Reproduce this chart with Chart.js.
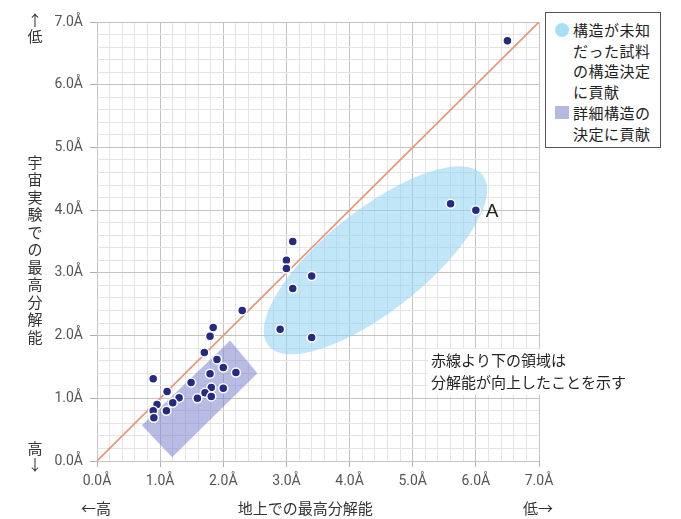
<!DOCTYPE html>
<html>
<head>
<meta charset="utf-8">
<script src="https://cdn.jsdelivr.net/npm/chart.js@4"></script>
<style>
  html, body { margin: 0; padding: 0; background: #fff; }
  #wrap { position: relative; width: 681px; height: 519px; }
  #legend {
    position: absolute; left: 545px; top: 12px; width: 116px; height: 136px;
    border: 1px solid #555; background: #fff; box-sizing: border-box;
    font-family: "Noto Sans CJK JP", sans-serif; font-size: 15px; color: #222;
    letter-spacing: 0.5px;
  }
  #legend .row { position: absolute; left: 27px; line-height: 20px; white-space: nowrap; }
  #legend .dot { position: absolute; left: 9px; top: 10px; width: 14px; height: 14px; border-radius: 50%; background: #a9def8; }
  #legend .sq { position: absolute; left: 9px; top: 93px; width: 14px; height: 13px; background: #b5b9e2; }
</style>
</head>
<body>
<div id="wrap">
  <canvas id="chart" width="681" height="519"></canvas>
  <div id="legend">
    <div class="dot"></div>
    <div class="row" style="top:7px">構造が未知</div>
    <div class="row" style="top:28px">だった試料</div>
    <div class="row" style="top:48px">の構造決定</div>
    <div class="row" style="top:69px">に貢献</div>
    <div class="sq"></div>
    <div class="row" style="top:90px">詳細構造の</div>
    <div class="row" style="top:111px">決定に貢献</div>
  </div>
</div>
<script>
// measured resolutions (Å): ground (x) vs. space experiment (y)
const groundRes = [6.5, 5.6, 6.0, 3.1, 3.0, 3.0, 3.4, 3.1, 2.9, 3.4, 2.3,
  1.84, 1.79, 1.70, 0.89, 1.90, 2.00, 1.79, 2.20, 1.49, 1.11, 2.00, 1.81,
  1.30, 1.20, 1.71, 1.59, 1.81, 0.95, 1.10, 0.89, 0.90];
const spaceRes = [6.7, 4.1, 4.0, 3.5, 3.2, 3.07, 2.95, 2.75, 2.1, 1.97, 2.4,
  2.13, 1.99, 1.73, 1.31, 1.62, 1.49, 1.39, 1.41, 1.25, 1.11, 1.16, 1.17,
  1.01, 0.93, 1.09, 1.00, 1.03, 0.90, 0.80, 0.80, 0.69];

// reference line y = x
const refLineX = [0, 7];
const refLineY = [0, 7];

// highlighted regions (data units)
const ellipseCenter = [4.41, 3.2];
const ellipseRadii = [2.17, 0.8];
const ellipseAngle = 38.5;
const rectX = [2.11, 2.54, 1.19, 0.71];
const rectY = [1.92, 1.40, 0.06, 0.57];

const axisMin = 0, axisMax = 7, gridStep = 0.2;

const tickFont = { family: '"Liberation Sans Narrow", "Roboto", sans-serif', size: 14 };
const jpFont = '"Noto Sans CJK JP", sans-serif';

function isMajor(v) { return Math.abs(v - Math.round(v)) < 1e-6; }

const regionsPlugin = {
  id: 'regions',
  beforeDatasetsDraw(chart) {
    const ctx = chart.ctx, xs = chart.scales.x, ys = chart.scales.y;
    ctx.save();
    // ellipse: structure of unknown samples
    const cx = xs.getPixelForValue(ellipseCenter[0]);
    const cy = ys.getPixelForValue(ellipseCenter[1]);
    const rx = xs.getPixelForValue(ellipseCenter[0] + ellipseRadii[0]) - cx;
    const ry = xs.getPixelForValue(ellipseCenter[0] + ellipseRadii[1]) - cx;
    ctx.fillStyle = 'rgba(140, 210, 242, 0.55)';
    ctx.beginPath();
    ctx.ellipse(cx, cy, rx, ry, -ellipseAngle * Math.PI / 180, 0, Math.PI * 2);
    ctx.fill();
    // rotated rectangle: detailed structure
    ctx.fillStyle = 'rgba(125, 133, 205, 0.55)';
    ctx.beginPath();
    rectX.forEach((v, i) => {
      const px = xs.getPixelForValue(v), py = ys.getPixelForValue(rectY[i]);
      if (i === 0) ctx.moveTo(px, py); else ctx.lineTo(px, py);
    });
    ctx.closePath();
    ctx.fill();
    ctx.restore();
  },
  afterDraw(chart) {
    const ctx = chart.ctx, xs = chart.scales.x, ys = chart.scales.y;
    const area = chart.chartArea;
    ctx.save();
    ctx.fillStyle = '#222';
    ctx.textBaseline = 'middle';

    // point label "A"
    ctx.font = '19px "Liberation Sans", sans-serif';
    ctx.textAlign = 'left';
    ctx.fillText('A', xs.getPixelForValue(6.0) + 10, ys.getPixelForValue(4.0) + 2);

    // note text with white background
    const nx = xs.getPixelForValue(5.29), ny = ys.getPixelForValue(1.6);
    ctx.fillStyle = '#fff';
    ctx.fillRect(nx - 3, ny - 12, 200, 46);
    ctx.fillStyle = '#222';
    ctx.font = '15px ' + jpFont;
    ctx.fillText('赤線より下の領域は', nx, ny);
    ctx.fillText('分解能が向上したことを示す', nx, ny + 22);

    // y axis title, vertical
    ctx.textAlign = 'center';
    ctx.fillStyle = '#333';
    const title = '宇宙実験での最高分解能';
    const tx = area.left - 62;
    const ty0 = 162;
    [...title].forEach((ch, i) => ctx.fillText(ch, tx, ty0 + i * 17.5));
    ctx.fillText('↑', tx, area.top - 2);
    ctx.fillText('低', tx, area.top + 14);
    ctx.fillText('高', tx, area.bottom - 13);
    ctx.fillText('↓', tx, area.bottom + 3);

    // x axis titles
    const by = area.bottom + 47;
    ctx.fillText('地上での最高分解能', (xs.getPixelForValue(3.3)), by);
    ctx.textAlign = 'left';
    ctx.fillText('←高', area.left - 16, by);
    ctx.fillText('低→', area.right - 16, by);
    ctx.restore();
  }
};

new Chart(document.getElementById('chart').getContext('2d'), {
  type: 'scatter',
  data: {
    datasets: [
      {
        data: refLineX.map((v, i) => ({ x: v, y: refLineY[i] })),
        showLine: true,
        borderColor: '#ea9478',
        borderWidth: 1.6,
        pointRadius: 0,
        order: 2
      },
      {
        data: groundRes.map((v, i) => ({ x: v, y: spaceRes[i] })),
        backgroundColor: '#262a80',
        borderColor: '#ffffff',
        borderWidth: 1.5,
        pointRadius: 4.5,
        order: 1
      }
    ]
  },
  options: {
    responsive: false,
    animation: false,
    layout: { padding: { top: 22, right: 142, left: 0, bottom: 0 } },
    plugins: {
      legend: { display: false },
      tooltip: { enabled: false }
    },
    scales: {
      x: {
        type: 'linear',
        min: axisMin, max: axisMax,
        afterFit: (s) => { s.height = 58; },
        border: { display: false },
        grid: {
          color: (c) => isMajor(c.tick.value) ? '#c4c4c4' : '#e4e4e4',
          tickColor: (c) => isMajor(c.tick.value) ? '#b0b0b0' : 'rgba(0,0,0,0)',
          tickLength: 6
        },
        ticks: {
          stepSize: gridStep,
          autoSkip: false,
          maxRotation: 0,
          padding: 6,
          color: '#555',
          font: tickFont,
          callback: (v) => isMajor(v) ? Math.round(v).toFixed(1) + 'Å' : ''
        }
      },
      y: {
        type: 'linear',
        min: axisMin, max: axisMax,
        afterFit: (s) => { s.width = 97; },
        border: { display: false },
        grid: {
          color: (c) => isMajor(c.tick.value) ? '#c4c4c4' : '#e4e4e4',
          tickColor: (c) => isMajor(c.tick.value) ? '#b0b0b0' : 'rgba(0,0,0,0)',
          tickLength: 7
        },
        ticks: {
          stepSize: gridStep,
          autoSkip: false,
          padding: 7,
          color: '#555',
          font: tickFont,
          callback: (v) => isMajor(v) ? Math.round(v).toFixed(1) + 'Å' : ''
        }
      }
    }
  },
  plugins: [regionsPlugin]
});
</script>
</body>
</html>
